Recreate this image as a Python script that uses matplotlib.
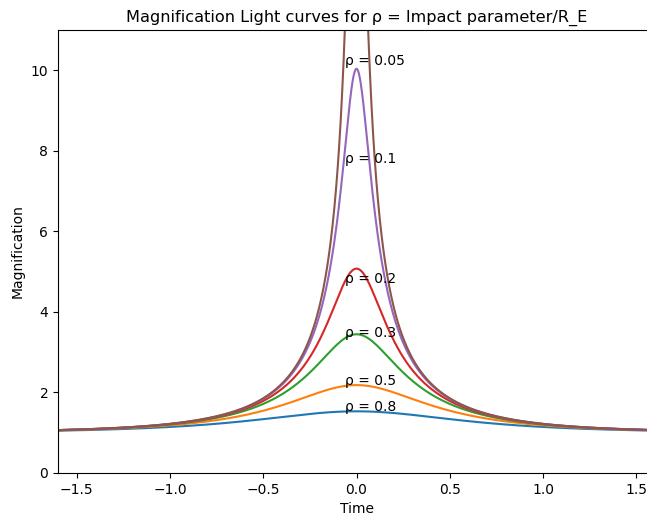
import numpy as np
import matplotlib
matplotlib.use("Agg")
import matplotlib.pyplot as plt

# impact parameters (in Einstein radii), plotted in this order
rhos = [0.8, 0.5, 0.3, 0.2, 0.1, 0.05]
# label heights
label_y = [1.545, 2.18, 3.38, 4.73, 7.69, 10.14]
label_x = -0.06

t_E = 0.82
time = np.linspace(-1.6, 1.6, 2001)


def magnification(u):
    return (u**2 + 2) / (u * np.sqrt(u**2 + 4))


fig = plt.figure(figsize=(6.47, 5.18), dpi=100)
ax = fig.add_axes([58 / 647, 45 / 518, 597 / 647, 443 / 518])

for rho, ly in zip(rhos, label_y):
    u = np.sqrt(rho**2 + (time / t_E) ** 2)
    ax.plot(time, magnification(u), lw=1.5)
    ax.text(label_x, ly, f"ρ = {rho}")

ax.set_xlim(-1.6, 1.6)
ax.set_ylim(0, 11)
ax.set_xlabel("Time")
ax.set_ylabel("Magnification")
ax.set_title("Magnification Light curves for ρ = Impact parameter/R_E", fontsize=11.6)

fig.savefig("out.png", dpi=100)
